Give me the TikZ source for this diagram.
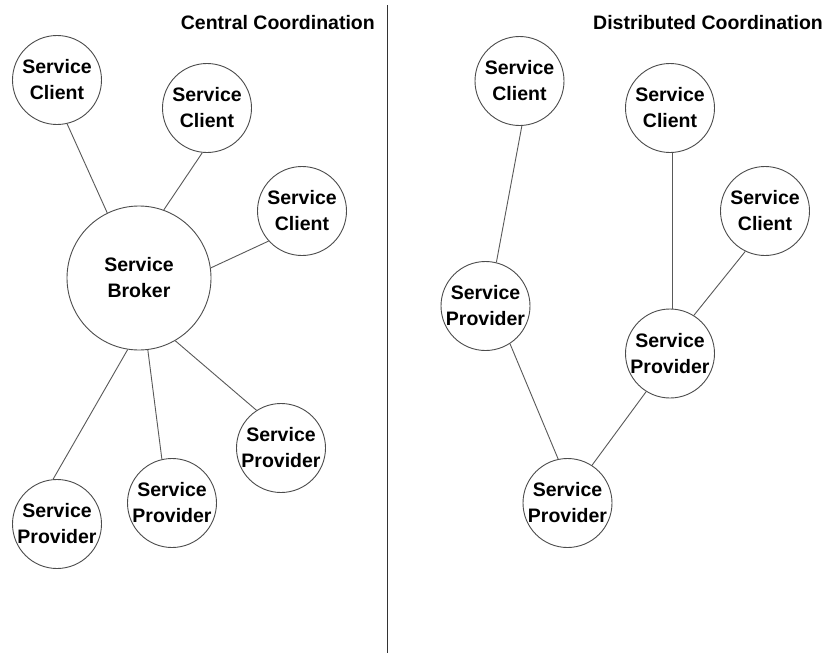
\documentclass[tikz,border=0pt]{standalone}
\usepackage{fontspec}
\setmainfont{Liberation Sans}
\begin{document}
\begin{tikzpicture}[x=1pt,y=-1pt,
  svc/.style={circle,draw=black!70,line width=0.9pt,fill=white,inner sep=0pt,
    minimum size=89pt,align=center,font=\bfseries\fontsize{19.5}{26}\selectfont},
  bigsvc/.style={svc,minimum size=144pt},
  link/.style={draw=black!65,line width=0.9pt},
  ttl/.style={font=\bfseries\fontsize{19.5}{24}\selectfont,inner sep=0pt}]
\useasboundingbox (0,0) rectangle (828,653);
\fill[white] (0,0) rectangle (828,653);
% separator
\coordinate (sepT) at (387,5);
\coordinate (sepB) at (387,653);
\draw[black!80,line width=0.9pt] (sepT) -- (sepB);
% titles
\node[ttl,anchor=base east] (t1) at (375,30) {Central Coordination};
\node[ttl,anchor=base west] (t2) at (593,30) {Distributed Coordination};
% central
\node[svc] (c1) at (57,80) {Service\\Client};
\node[svc] (c2) at (207,108) {Service\\Client};
\node[svc] (c3) at (302,211) {Service\\Client};
\node[bigsvc] (br) at (139,278) {Service\\Broker};
\node[svc] (p1) at (57,524) {Service\\Provider};
\node[svc] (p2) at (172,503) {Service\\Provider};
\node[svc] (p3) at (281,448) {Service\\Provider};
\draw[link] (c1.-77) -- (br.116);
\draw[link] (c2.-96) -- (br.70);
\draw[link] (c3.-138) -- (br.8.6);
\draw[link] (br.-99) -- (p1.95);
\draw[link] (br.-83) -- (p2.103);
\draw[link] (br.-60) -- (p3.123);
% distributed
\node[svc] (d1) at (519.5,81) {Service\\Client};
\node[svc] (d2) at (670,108) {Service\\Client};
\node[svc] (d3) at (765,211) {Service\\Client};
\node[svc] (q1) at (485.5,306) {Service\\Provider};
\node[svc] (q2) at (670,353.5) {Service\\Provider};
\node[svc] (q3) at (567.5,503) {Service\\Provider};
\draw[link] (d1.-87) -- (q1.76.6);
\draw[link] (d2.-87) -- (q2.87);
\draw[link] (d3.-116) -- (q2.58.6);
\draw[link] (q1.-57.5) -- (q3.102);
\draw[link] (q2.-122) -- (q3.57);
\end{tikzpicture}
\end{document}
